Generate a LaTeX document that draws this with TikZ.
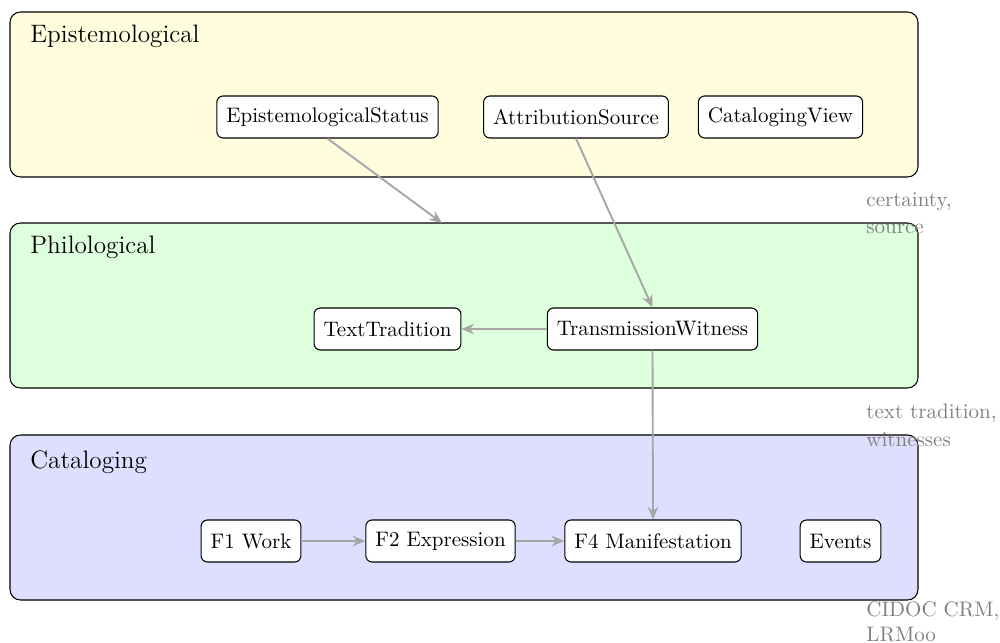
\documentclass[tikz,border=0pt]{standalone}
\usetikzlibrary{arrows.meta}
\begin{document}
\begin{tikzpicture}[x=0.476pt,y=-0.476pt,
  layerbox/.style={draw=black,line width=0.5pt,rounded corners=5pt},
  layertitle/.style={anchor=west,inner sep=0pt,font=\large},
  entity/.style={draw=black,fill=white,rounded corners=3pt,line width=0.5pt,minimum height=20pt,inner xsep=4.5pt,font=\normalsize},
  flow/.style={draw=black!35,line width=0.9pt,-{Stealth[length=6pt,width=5pt]}},
  sidenote/.style={anchor=north west,inner sep=0pt,align=left,text=black!50,font=\normalsize}]
\useasboundingbox (0,0) rectangle (1000,643);
% layers
\draw[layerbox,fill=yellow!13] (10,12) rectangle (918,177);
\draw[layerbox,fill=green!13] (10,223) rectangle (918,388);
\draw[layerbox,fill=blue!13] (10,435) rectangle (918,600);
\node[layertitle] (tep) at (30,36) {Epistemological};
\node[layertitle] (tph) at (30,247) {Philological};
\node[layertitle] (tca) at (30,462) {Cataloging};
\coordinate (phtop) at (442,223);
% entities
\node[entity] (es) at (327.5,117) {EpistemologicalStatus};
\node[entity] (as) at (576,117) {AttributionSource};
\node[entity] (cv) at (780.5,117) {CatalogingView};
\node[entity] (tt) at (387.5,329) {TextTradition};
\node[entity] (tw) at (652.5,329) {TransmissionWitness};
\node[entity] (f1) at (251,541) {F1 Work};
\node[entity] (f2) at (440.5,541) {F2 Expression};
\node[entity] (f4) at (653,541) {F4 Manifestation};
\node[entity] (ev) at (840.5,541) {Events};
% connectors
\draw[flow] (es.south) -- (phtop);
\draw[flow] (as.south) -- (tw.north);
\draw[flow] (tw.west) -- (tt.east);
\draw[flow] (tw.south) -- (f4.north);
\draw[flow] (f1.east) -- (f2.west);
\draw[flow] (f2.east) -- (f4.west);
% side notes
\node[sidenote] (n1) at (866,192) {certainty,\\[1pt]source};
\node[sidenote] (n2) at (866,404) {text tradition,\\[1pt]witnesses};
\node[sidenote] (n3) at (866,601) {CIDOC CRM,\\LRMoo};
\end{tikzpicture}
\end{document}
